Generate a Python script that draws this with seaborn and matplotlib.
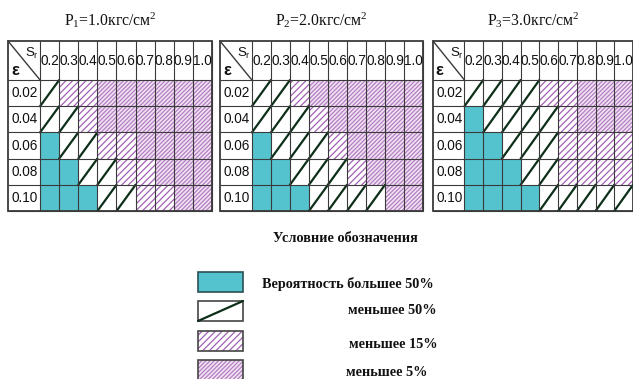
import numpy as np
import pandas as pd
import seaborn as sns
import matplotlib
matplotlib.use("Agg")
import matplotlib.pyplot as plt
from matplotlib.colors import ListedColormap
from matplotlib.patches import Rectangle

sns.set_theme(style="white")
plt.rcParams["font.family"] = ["Liberation Sans", "DejaVu Sans"]
plt.rcParams["mathtext.default"] = "regular"
plt.rcParams["hatch.linewidth"] = 0.9

# Degree of saturation (columns) and relative strain (rows)
SR = ["0.2", "0.3", "0.4", "0.5", "0.6", "0.7", "0.8", "0.9", "1.0"]
EPS = ["0.02", "0.04", "0.06", "0.08", "0.10"]

TITLES = [r"P$_1$=1.0кгс/см$^2$", r"P$_2$=2.0кгс/см$^2$", r"P$_3$=3.0кгс/см$^2$"]

# Probability class per cell: 3 = >50%, 2 = <50%, 1 = <15%, 0 = <5%
P1 = [
    [2, 1, 1, 0, 0, 0, 0, 0, 0],
    [2, 2, 1, 0, 0, 0, 0, 0, 0],
    [3, 2, 2, 1, 1, 0, 0, 0, 0],
    [3, 3, 2, 2, 1, 1, 0, 0, 0],
    [3, 3, 3, 2, 2, 1, 1, 0, 0],
]
P2 = [
    [2, 2, 1, 0, 0, 0, 0, 0, 0],
    [2, 2, 2, 1, 0, 0, 0, 0, 0],
    [3, 2, 2, 2, 1, 0, 0, 0, 0],
    [3, 3, 2, 2, 2, 1, 0, 0, 0],
    [3, 3, 3, 2, 2, 2, 2, 0, 0],
]
P3 = [
    [2, 2, 2, 2, 1, 1, 0, 0, 0],
    [3, 2, 2, 2, 2, 1, 0, 0, 0],
    [3, 3, 2, 2, 2, 1, 1, 1, 1],
    [3, 3, 3, 2, 2, 1, 1, 1, 1],
    [3, 3, 3, 3, 2, 2, 2, 2, 2],
]
GRIDS = [P1, P2, P3]

LEGEND_TITLE = "Условние обозначения"
LEGEND_CLASSES = [3, 2, 1, 0]
LEGEND_LABELS = ["Вероятность большее 50%", "меньшее 50%", "меньшее 15%", "меньшее 5%"]

TEAL = "#55c3ce"
HATCH = "#a361b3"
HATCH_DENSE = "#b47fc2"
DENSE_BG = "#f1e3f3"
DIAG = "#0d2f1a"
LINE = "#3a3a3a"
HATCHES = {1: "/////", 0: "////////"}
HATCH_COLORS = {1: HATCH, 0: HATCH_DENSE}
SERIF = ["Liberation Serif", "DejaVu Serif"]

plt.rcParams["hatch.color"] = HATCH
cmap = ListedColormap([DENSE_BG, "white", "white", TEAL])

W, H = 633, 379
fig = plt.figure(figsize=(W / 100, H / 100), dpi=100)


def px_axes(x0, y0, x1, y1):
    return fig.add_axes([x0 / W, 1 - y1 / H, (x1 - x0) / W, (y1 - y0) / H])


HDR_W = 1.68   # width of the row-label column, in cell units
HDR_H = 1.49   # height of the column-label row, in cell units
TABLE_X = [(8, 212), (220, 423), (433, 633)]
TABLE_Y = (41, 211)

for (x0, x1), title, grid in zip(TABLE_X, TITLES, GRIDS):
    ax = px_axes(x0, TABLE_Y[0], x1, TABLE_Y[1])
    df = pd.DataFrame(grid, index=EPS, columns=SR)
    sns.heatmap(df, ax=ax, cmap=cmap, vmin=-0.5, vmax=3.5, cbar=False,
                linewidths=0, xticklabels=False, yticklabels=False)
    ax.set_xlim(-HDR_W, 9)
    ax.set_ylim(5, -HDR_H)
    ax.set_xticks([])
    ax.set_yticks([])
    for s in ax.spines.values():
        s.set_visible(False)

    nrow, ncol = df.shape
    for i in range(nrow):
        for j in range(ncol):
            v = df.iat[i, j]
            if v in HATCHES:
                ax.add_patch(Rectangle((j, i), 1, 1, facecolor="none",
                                       edgecolor=HATCH_COLORS[v], lw=0,
                                       hatch=HATCHES[v]))
            elif v == 2:
                ax.plot([j, j + 1], [i + 1, i], color=DIAG, lw=1.6,
                        solid_capstyle="round", clip_on=False)

    # cell borders
    ax.vlines(np.arange(0, ncol + 1), -HDR_H, nrow, color=LINE, lw=0.8, clip_on=False)
    ax.hlines(np.arange(0, nrow + 1), -HDR_W, ncol, color=LINE, lw=0.8, clip_on=False)
    ax.add_patch(Rectangle((-HDR_W, -HDR_H), ncol + HDR_W, nrow + HDR_H,
                           fill=False, edgecolor=LINE, lw=1.3, clip_on=False))

    # header labels
    for j, lab in enumerate(SR):
        ax.text(j + 0.5, -HDR_H / 2, lab, ha="center", va="center",
                fontsize=9.8, color="#111111")
    for i, lab in enumerate(EPS):
        ax.text(-HDR_W + 0.18, i + 0.5, lab, ha="left", va="center",
                fontsize=9.8, color="#111111")

    # corner cell
    ax.plot([-HDR_W, 0], [-HDR_H, 0], color=LINE, lw=1.0, clip_on=False)
    ax.text(-0.42, -1.02, r"S$_r$", ha="center", va="center", fontsize=9.5,
            color="#111111")
    ax.text(-1.32, -0.36, "ε", ha="center", va="center", fontsize=12,
            fontweight="bold", color="#111111")

    ax.text((ncol - HDR_W) / 2, -HDR_H - 0.78, title, ha="center", va="center",
            fontsize=11.3, family=SERIF, color="#111111")

# legend
lax = px_axes(0, 220, W, H)
lax.set_xlim(0, W)
lax.set_ylim(H, 220)
lax.axis("off")
lax.text(345, 239, LEGEND_TITLE, ha="center", va="center", fontsize=10.3,
         fontweight="bold", family=SERIF, color="#111111")

box_y = [272, 301, 331, 360]
text_pos = [(262, 284, "left"), (437, 311, "right"), (438, 344, "right"), (428, 372, "right")]
for cls, lab, by, (tx, ty, ha) in zip(LEGEND_CLASSES, LEGEND_LABELS, box_y, text_pos):
    if cls == 3:
        lax.add_patch(Rectangle((198, by), 45, 20, facecolor=TEAL,
                                edgecolor="#2c4f55", lw=1.2))
    elif cls == 2:
        lax.add_patch(Rectangle((198, by), 45, 20, facecolor="white",
                                edgecolor="#444444", lw=1.2))
        lax.plot([198, 243], [by + 20, by], color=DIAG, lw=1.6)
    else:
        fc = DENSE_BG if cls == 0 else "white"
        lax.add_patch(Rectangle((198, by), 45, 20, facecolor=fc, edgecolor="none"))
        lax.add_patch(Rectangle((198, by), 45, 20, facecolor="none",
                                edgecolor=HATCH_COLORS[cls], lw=0, hatch=HATCHES[cls]))
        lax.add_patch(Rectangle((198, by), 45, 20, fill=False,
                                edgecolor="#444444", lw=1.2))
    lax.text(tx, ty, lab, ha=ha, va="center", fontsize=10.3, fontweight="bold",
             family=SERIF, color="#111111")

fig.savefig("out.png", dpi=100)
